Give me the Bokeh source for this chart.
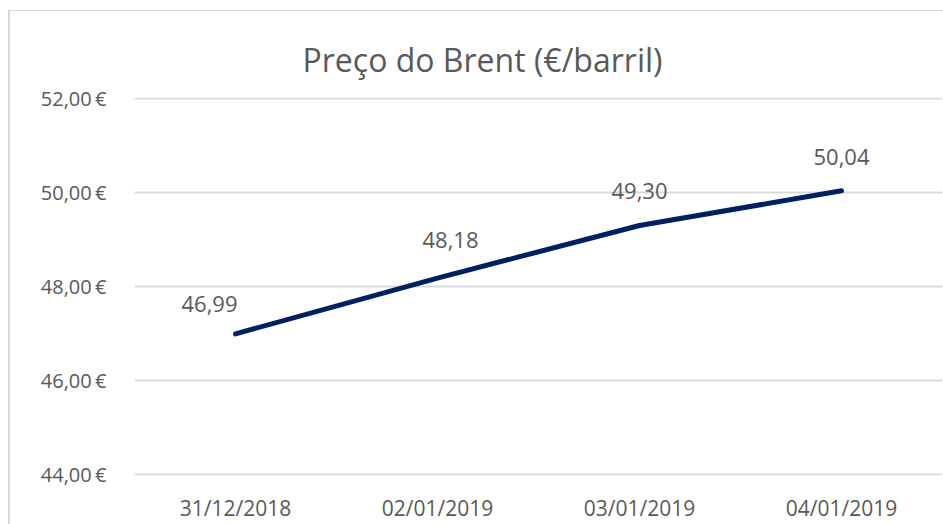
from bokeh.plotting import figure
from bokeh.models import Range1d, FactorRange, ColumnDataSource, FixedTicker, CustomJSTickFormatter
from bokeh.core.properties import value
from bokeh.embed import file_html
from bokeh.resources import INLINE

dates = ["31/12/2018", "02/01/2019", "03/01/2019", "04/01/2019"]
prices = [46.99, 48.18, 49.30, 50.04]
price_labels = ["46,99", "48,18", "49,30", "50,04"]
y_ticks = [44, 46, 48, 50, 52]
title_text = "Preço do Brent (€/barril)"

label_dx = [-26, 13, 0, 0]
label_dy = [-22, -30, -27, -26]

src = ColumnDataSource(dict(x=dates, y=prices, lab=price_labels, dx=label_dx, dy=label_dy))

p = figure(width=935, height=514, x_range=FactorRange(*dates, range_padding=0),
           y_range=Range1d(43.97, 52.03), output_backend="svg", toolbar_location=None,
           min_border_left=124, min_border_right=3, min_border_top=86, min_border_bottom=50,
           margin=(10, 0, 0, 8))
p.styles = {"border-top": "1px solid #d9d9d9", "border-left": "2px solid #d9d9d9"}

p.title.text = title_text
p.title.align = "left"
p.title.offset = 168
p.title.vertical_align = "top"
p.title.text_font = "Open Sans"
p.title.text_font_size = "32px"
p.title.text_line_height = 0.8
p.title.text_font_style = "normal"
p.title.text_color = "#595959"
p.title.standoff = 30

p.line("x", "y", source=src, line_color="#002060", line_width=5, line_cap="round")
p.text("x", "y", text="lab", source=src, x_offset="dx", y_offset="dy",
       text_align="center", text_baseline="bottom", text_font=value("Open Sans"),
       text_font_size="22px", text_color="#595959")

p.outline_line_color = None
p.xgrid.grid_line_color = None
p.ygrid.grid_line_color = "#d9d9d9"
p.ygrid.grid_line_width = 2
p.yaxis.ticker = FixedTicker(ticks=y_ticks)
p.yaxis.formatter = CustomJSTickFormatter(code="return tick.toFixed(2).replace('.', ',') + '\u2009€';")
for ax in (p.xaxis[0], p.yaxis[0]):
    ax.axis_line_color = None
    ax.major_tick_line_color = None
    ax.minor_tick_line_color = None
    ax.major_label_text_font = "Open Sans"
    ax.major_label_text_color = "#595959"
p.yaxis.major_label_text_font_size = "20px"
p.yaxis.major_label_standoff = 22
p.xaxis.major_label_text_font_size = "21px"
p.xaxis.major_label_standoff = 12
p.background_fill_color = "white"
p.border_fill_color = "white"

open("out.html", "w").write(file_html(p, INLINE))
